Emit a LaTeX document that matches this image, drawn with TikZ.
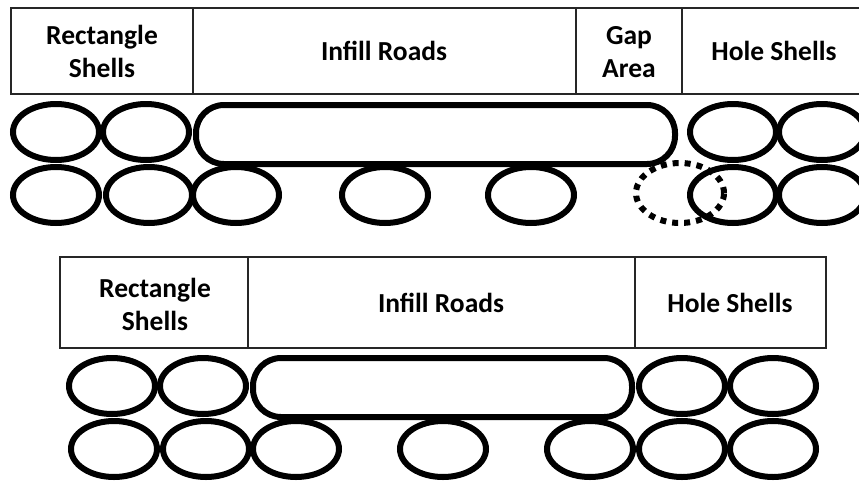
\documentclass[tikz,border=0pt]{standalone}
\usepackage{fontspec}
\setmainfont{Carlito}
\usetikzlibrary{shapes.geometric}
\begin{document}
\begin{tikzpicture}[x=1pt,y=-1pt,
  grid/.style={line width=2pt,draw=black!85},
  lbl/.style={font=\bfseries\fontsize{27.5}{33}\selectfont,align=center,inner sep=0pt},
  shell/.style={ellipse,draw=black,line width=6pt,minimum width=86pt,minimum height=56pt,inner sep=0pt},
  gapshell/.style={ellipse,draw=black,line width=6pt,dash pattern=on 6pt off 6pt,minimum width=88pt,minimum height=60pt,inner sep=0pt},
  road/.style={draw=black,line width=6pt,rounded corners=28pt}]
\useasboundingbox (0,0) rectangle (859,480);
% ---- top table ----
\draw[grid] (859,8) -- (11,8) -- (11,94) -- (859,94);
\draw[grid] (193,8) -- (193,94);
\draw[grid] (576,8) -- (576,94);
\draw[grid] (682,8) -- (682,94);
\node[lbl] (t1) at (102,51) {Rectangle\\Shells};
\node[lbl] (t2) at (384,51) {Infill Roads};
\node[lbl] (t3) at (629,52) {Gap\\Area};
\node[lbl] (t4) at (774,51) {Hole Shells};
% ---- top shells ----
\node[shell] (a1) at (56,132) {};
\node[shell] (a2) at (146,132) {};
\draw[road] (196,105) rectangle (675,164);
\node[shell] (a3) at (733,132) {};
\node[shell] (a4) at (822,132) {};
\node[shell] (b1) at (56,195) {};
\node[shell] (b2) at (149,195) {};
\node[shell] (b3) at (236,195) {};
\node[shell] (b4) at (385,195) {};
\node[shell] (b5) at (531,195) {};
\node[shell] (b6) at (733,195) {};
\node[shell] (b7) at (822,195) {};
\node[gapshell] (gp) at (680,193) {};
% ---- bottom table ----
\draw[grid] (60,257) rectangle (826,348);
\draw[grid] (248,257) -- (248,348);
\draw[grid] (635,257) -- (635,348);
\node[lbl] (u1) at (155,304) {Rectangle\\Shells};
\node[lbl] (u2) at (441,303) {Infill Roads};
\node[lbl] (u3) at (730,303) {Hole Shells};
% ---- bottom shells ----
\node[shell] (c1) at (112,386) {};
\node[shell] (c2) at (203,386) {};
\draw[road] (253,358) rectangle (632,417);
\node[shell] (c3) at (682,386) {};
\node[shell] (c4) at (773,386) {};
\node[shell] (d1) at (114,449) {};
\node[shell] (d2) at (206,449) {};
\node[shell] (d3) at (296,449) {};
\node[shell] (d4) at (443,449) {};
\node[shell] (d5) at (590,449) {};
\node[shell] (d6) at (682,449) {};
\node[shell] (d7) at (773,449) {};
\end{tikzpicture}
\end{document}
